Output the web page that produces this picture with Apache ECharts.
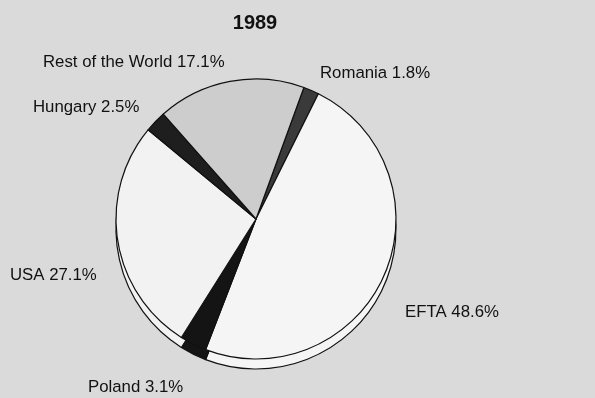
<!DOCTYPE html>
<html><head><meta charset="utf-8">
<script src="https://cdn.jsdelivr.net/npm/echarts@6/dist/echarts.min.js"></script>
<style>html,body{margin:0;padding:0;background:#dadada}#c{width:595px;height:398px}</style>
</head><body><div id="c"></div>
<script>
var title = '1989';
var categories = ['Romania', 'EFTA', 'Poland', 'USA', 'Hungary', 'Rest of the World'];
var shares = [1.8, 48.6, 3.1, 27.1, 2.5, 17.1];
var sliceColors = ['#3a3a3a', '#f5f5f5', '#141414', '#f2f2f2', '#1e1e1e', '#cdcdcd'];
var labelPos = [[320, 73], [405, 312], [88, 387], [10, 275], [33, 107], [43, 62]];

var data = categories.map(function (n, i) {
  return { name: n, value: shares[i], itemStyle: { color: sliceColors[i] } };
});
var chart = echarts.init(document.getElementById('c'));
chart.setOption({
  backgroundColor: '#dadada',
  title: { text: title, left: 250, top: 8, textAlign: 'center',
    textStyle: { fontFamily: 'Liberation Sans, Arial', fontSize: 20, fontWeight: 'bold', color: '#111' } },
  series: [
    { type: 'pie', silent: true, z: 1, center: [256, 229], radius: 140, startAngle: 70, clockwise: true,
      data: data, label: { show: false }, labelLine: { show: false },
      itemStyle: { borderColor: '#111', borderWidth: 1.2 }, animation: false },
    { type: 'pie', z: 2, center: [256, 219], radius: 140, startAngle: 70, clockwise: true,
      data: data, animation: false,
      itemStyle: { borderColor: '#111', borderWidth: 1.2 },
      label: { show: true, formatter: '{b} {c}%', color: '#111', fontSize: 16.8,
        fontFamily: 'Liberation Sans, Arial', overflow: 'none', width: 300 },
      labelLine: { show: false },
      labelLayout: function (p) {
        var q = labelPos[p.dataIndex];
        return { x: q[0], y: q[1], align: 'left', verticalAlign: 'middle', moveOverlap: false, hideOverlap: false };
      } }
  ]
});
</script></body></html>
